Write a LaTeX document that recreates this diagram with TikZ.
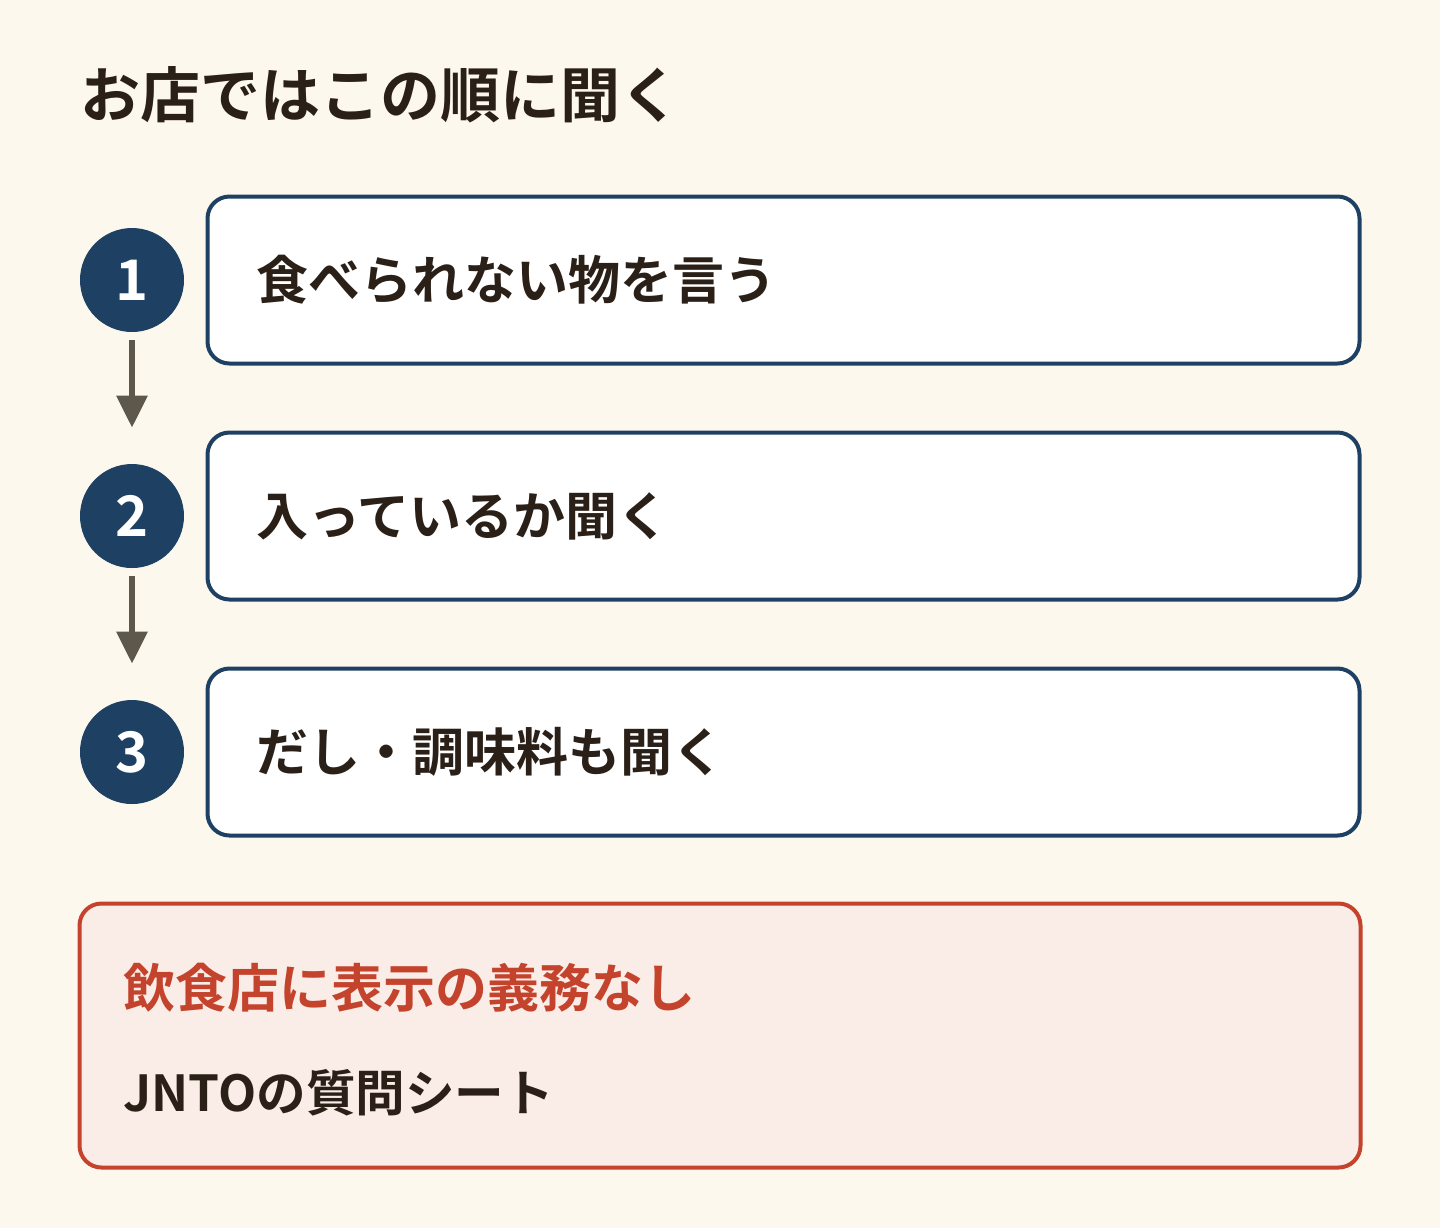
\documentclass[tikz,border=0pt]{standalone}
\usepackage{fontspec}
\setmainfont{Noto Sans CJK JP}[BoldFont={Noto Sans CJK JP Bold}]
\usetikzlibrary{positioning,arrows.meta}
\definecolor{cream}{HTML}{FCF8EE}
\definecolor{navy}{HTML}{1D4063}
\definecolor{ink}{HTML}{2A2017}
\definecolor{arrowgray}{HTML}{5E574C}
\definecolor{brick}{HTML}{C4432D}
\definecolor{pinkfill}{HTML}{FAEDE8}

\tikzset{
  stepbox/.style={draw=navy, line width=2pt, fill=white, rounded corners=11pt,
    minimum width=576pt, minimum height=83.5pt},
  stepnum/.style={circle, fill=navy, text=white, minimum size=52pt, inner sep=0pt,
    font=\bfseries\fontsize{28}{28}\selectfont},
  steptext/.style={anchor=west, inner sep=0pt, text=ink,
    font=\bfseries\fontsize{26}{26}\selectfont},
  flow/.style={draw=arrowgray, line width=3pt, shorten <=4pt, shorten >=18pt,
    -{Triangle[width=15pt,length=16pt]}}
}

\begin{document}
\begin{tikzpicture}[x=0.5pt,y=-0.5pt]
\useasboundingbox[fill=cream] (0,0) rectangle (1440,1228);

% title
\node[steptext, font=\bfseries\fontsize{30}{30}\selectfont] (title) at (80,95) {お店ではこの順に聞く};

% steps
\node[stepbox] (b1) at (783.5,280) {};
\node[stepbox] (b2) at (783.5,516) {};
\node[stepbox] (b3) at (783.5,752) {};

\node[stepnum] (c1) at (132,280) {1};
\node[stepnum] (c2) at (132,516) {2};
\node[stepnum] (c3) at (132,752) {3};

\node[steptext] (t1) at (256,280) {食べられない物を言う};
\node[steptext] (t2) at (256,516) {入っているか聞く};
\node[steptext] (t3) at (256,752) {だし・調味料も聞く};

\draw[flow] (c1) -- (c2);
\draw[flow] (c2) -- (c3);

% note
\node[draw=brick, line width=2pt, fill=pinkfill, rounded corners=11pt,
  minimum width=640.5pt, minimum height=132pt] (note) at (720,1035.5) {};
\node[steptext, text=brick] (n1) at (123,988) {飲食店に表示の義務なし};
\node[steptext, font=\bfseries\fontsize{24.8}{24.8}\selectfont] (n2) at (123,1093) {JNTOの質問シート};
\end{tikzpicture}
\end{document}
